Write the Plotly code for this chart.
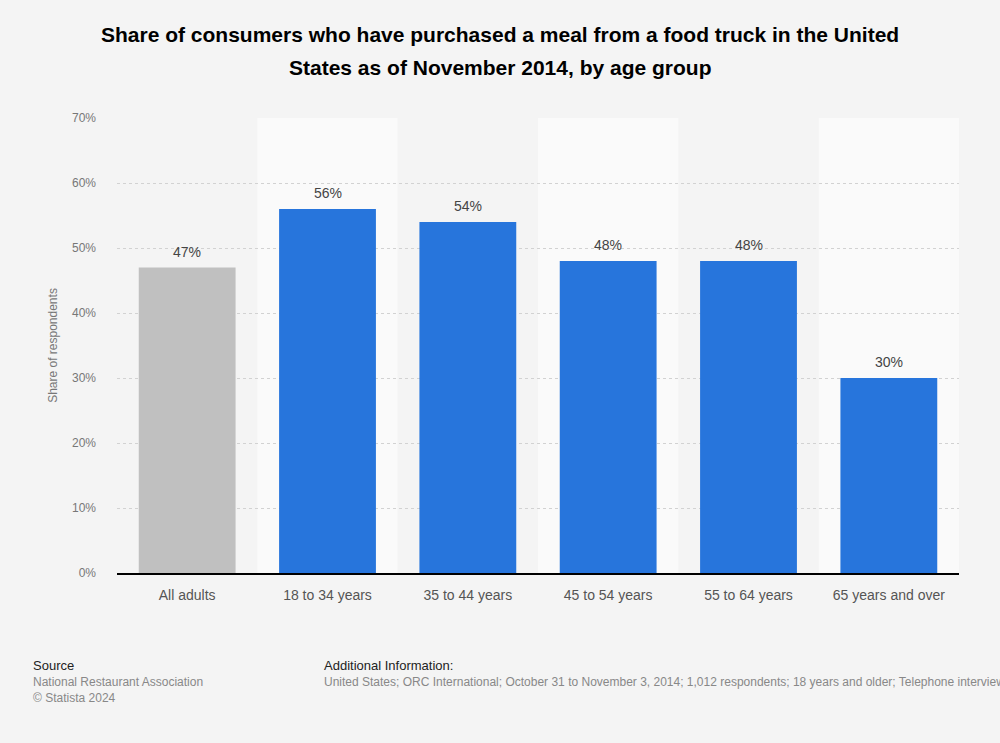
import plotly.graph_objects as go

categories = ["All adults", "18 to 34 years", "35 to 44 years", "45 to 54 years", "55 to 64 years", "65 years and over"]
values = [47, 56, 54, 48, 48, 30]
bar_colors = ["#c0c0c0", "#2775dc", "#2775dc", "#2775dc", "#2775dc", "#2775dc"]
tick_vals = [0, 10, 20, 30, 40, 50, 60, 70]
tick_text = ["0%", "10%", "20%", "30%", "40%", "50%", "60%", "70%"]
title_lines = [
    "Share of consumers who have purchased a meal from a food truck in the United",
    "States as of November 2014, by age group",
]

FONT = "Liberation Sans, Arial, sans-serif"
W, H = 1000, 743
ML, MR, MT, MB = 117, 41, 118, 170

fig = go.Figure()
fig.add_trace(go.Bar(
    x=list(range(len(categories))),
    y=values,
    marker=dict(color=bar_colors, line=dict(width=0)),
    width=0.69,
    hoverinfo="skip",
))

shapes = []
for i in range(len(categories)):
    if i % 2 == 1:
        shapes.append(dict(type="rect", xref="x", yref="paper", x0=i - 0.5, x1=i + 0.5, y0=0, y1=1,
                           fillcolor="#fafafa", line=dict(width=0), layer="below"))


def px_to_paper(xp, yp):
    return (xp - ML) / (W - ML - MR), (H - MB - yp) / (H - MT - MB)


anns = []
# value labels
for i, v in enumerate(values):
    anns.append(dict(text=f"{v}%", x=i, y=v, xref="x", yref="y", xanchor="center", yanchor="bottom",
                     yshift=6, showarrow=False, font=dict(family=FONT, size=14, color="#444444")))
# title
for line, yp in zip(title_lines, [35, 68]):
    xx, yy = px_to_paper(500, yp)
    anns.append(dict(text=f"<b>{line}</b>", x=xx, y=yy, xref="paper", yref="paper", xanchor="center",
                     yanchor="middle", showarrow=False, font=dict(family=FONT, size=21, color="#000000")))
footer = [
    ("Source", 31, 665, 13, "#222222"),
    ("National Restaurant Association", 31, 682, 12, "#888888"),
    ("© Statista 2024", 31, 698, 12, "#888888"),
    ("Additional Information:", 322, 665, 13, "#222222"),
    ("United States; ORC International; October 31 to November 3, 2014; 1,012 respondents; 18 years and older; Telephone interview", 322, 682, 12, "#888888"),
]
for txt, xp, yp, sz, col in footer:
    xx, yy = px_to_paper(xp, yp)
    anns.append(dict(text=txt, x=xx, y=yy, xref="paper", yref="paper", xanchor="left", yanchor="middle",
                     showarrow=False, font=dict(family=FONT, size=sz, color=col)))

fig.update_layout(
    width=W, height=H,
    paper_bgcolor="#f4f4f4",
    plot_bgcolor="#f4f4f4",
    margin=dict(l=ML, r=MR, t=MT, b=MB),
    shapes=shapes,
    showlegend=False,
    annotations=anns,
    xaxis=dict(
        tickmode="array", tickvals=list(range(len(categories))), ticktext=categories,
        range=[-0.5, len(categories) - 0.5],
        showgrid=False, zeroline=False,
        showline=True, linecolor="#000000", linewidth=1.5,
        ticks="", tickfont=dict(family=FONT, size=14, color="#555555"),
        ticklabelstandoff=8,
    ),
    yaxis=dict(
        range=[0, 70], tickmode="array", tickvals=tick_vals, ticktext=tick_text,
        showgrid=True, gridcolor="#d2d2d2", griddash="dot", gridwidth=1,
        zeroline=False, showline=False, ticks="",
        tickfont=dict(family=FONT, size=12, color="#777777"),
        ticklabelstandoff=20,
        title=dict(text="Share of respondents", font=dict(family=FONT, size=12, color="#777777"), standoff=11),
    ),
)

fig.write_html("out.html", config={"displayModeBar": False},
               post_script="document.body.style.margin='0';document.body.style.overflow='hidden';")
